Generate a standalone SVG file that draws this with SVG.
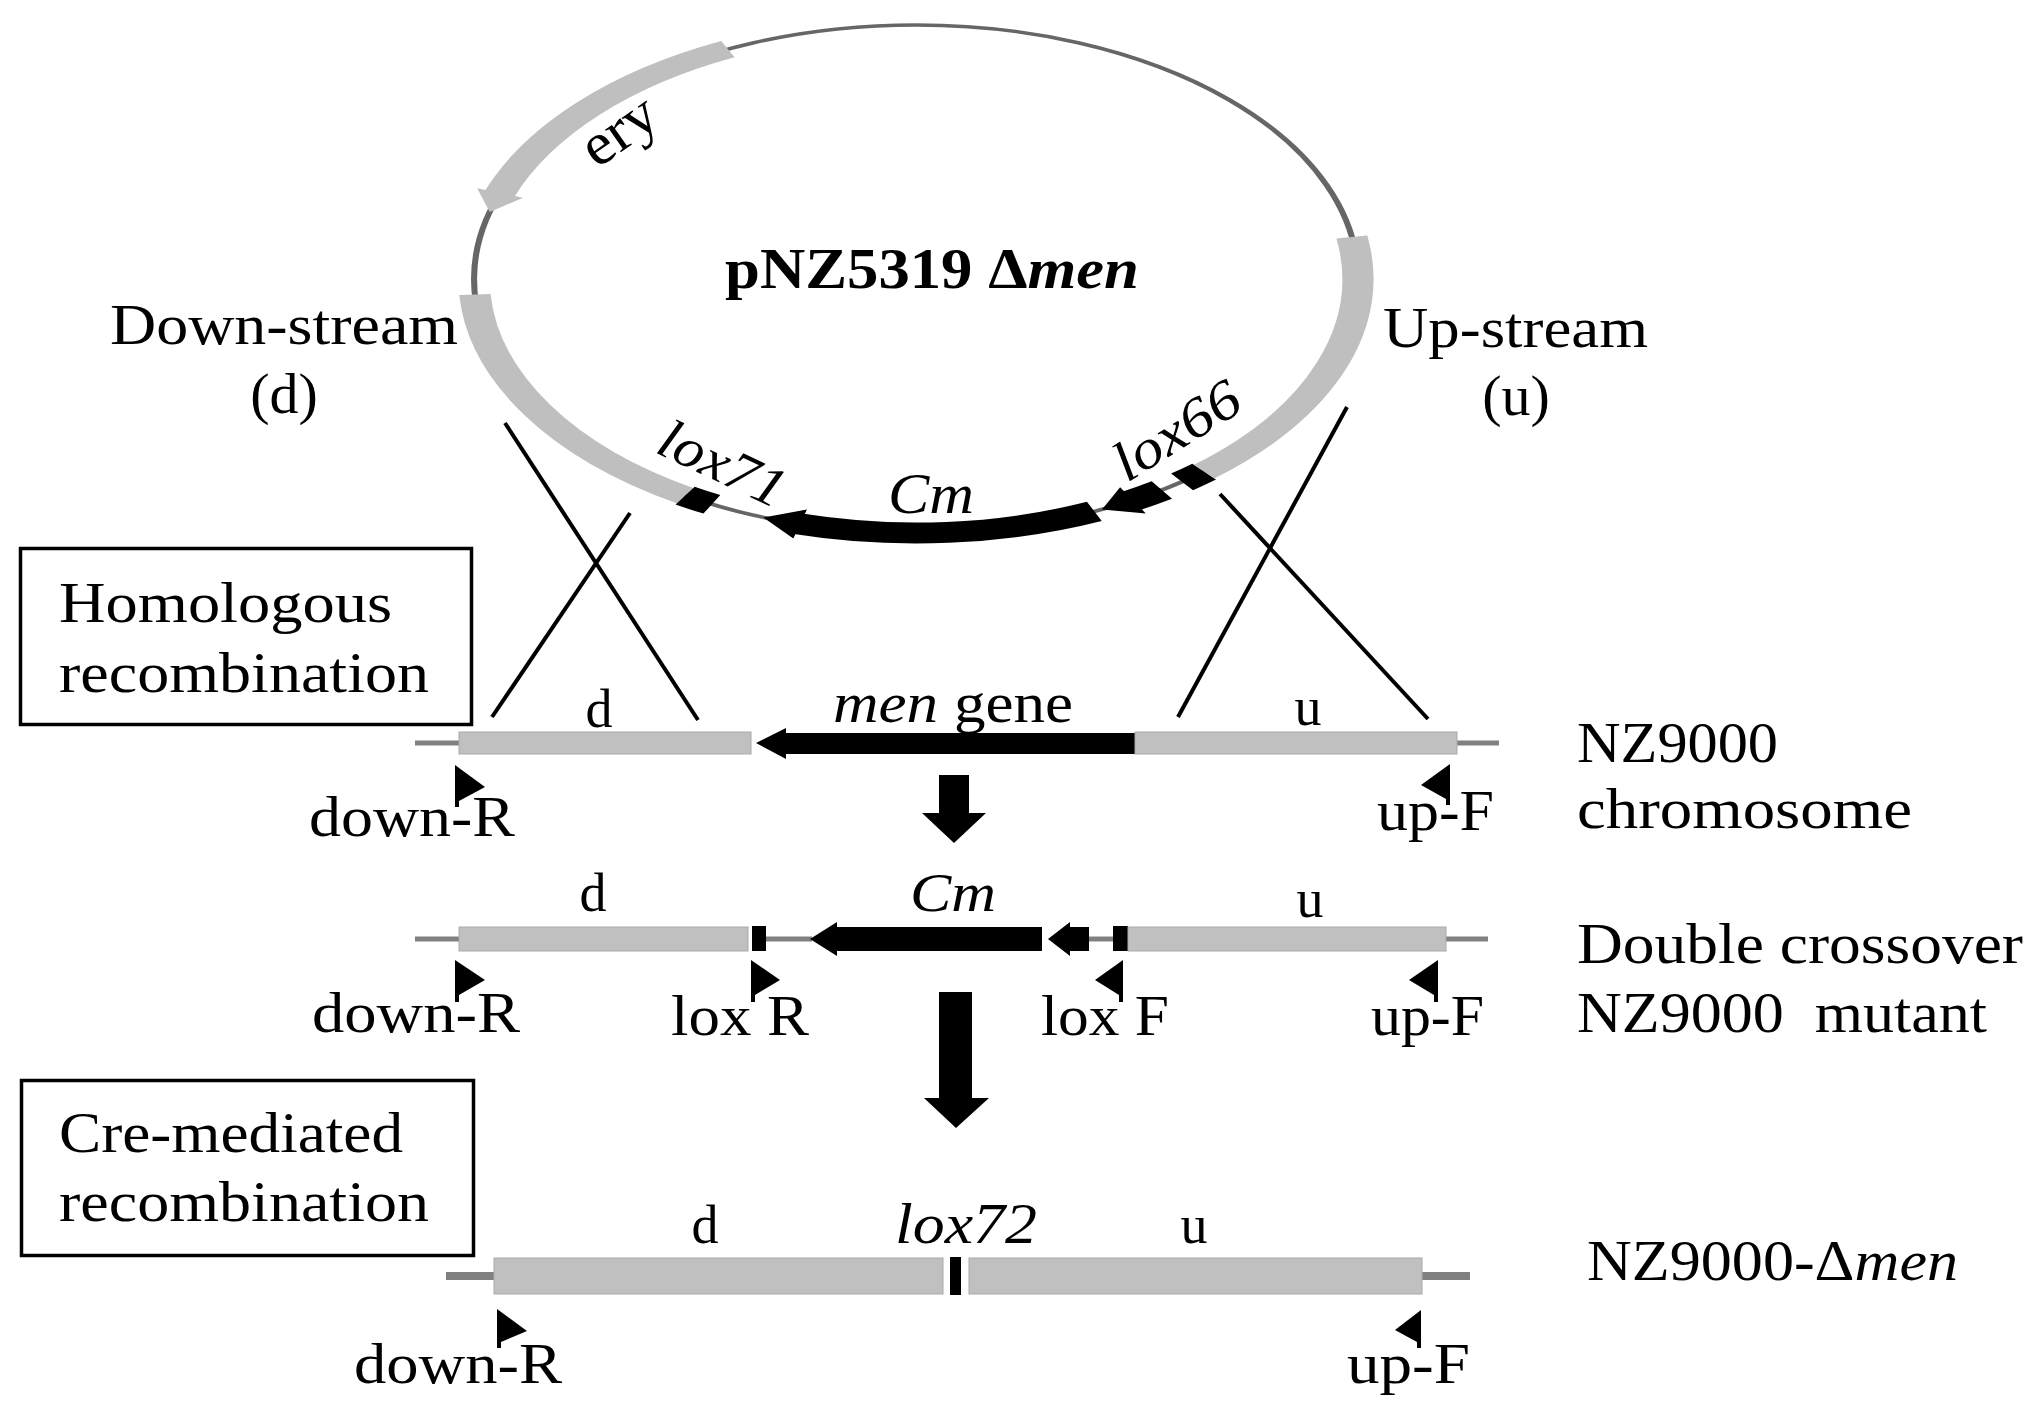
<svg xmlns="http://www.w3.org/2000/svg" width="2040" height="1410" viewBox="0 0 2040 1410">
<style>
.t{font-family:"Liberation Serif","Times New Roman",serif;fill:#000}
.i{font-style:italic}
.b{font-weight:bold}
.band{fill:none;stroke:#bfbfbf;stroke-width:18}
.blk{fill:none;stroke:#000;stroke-width:21}
.thin{fill:none;stroke:#666;stroke-width:3.5}
.gbox{fill:#c0c0c0;stroke:#aaa;stroke-width:1}
.line{stroke:#808080}
.x{stroke:#000;stroke-width:4;fill:none}
.box{fill:#fff;stroke:#000;stroke-width:3.5}
</style>
<rect width="2040" height="1410" fill="#fff"/>

<g id="plasmid">
  <g transform="translate(916,279) scale(1.74,1)">
    <circle class="thin" cx="0" cy="0" r="254"/>
    <path class="band" d="M -108.1 -229.8 A 254 254 0 0 0 -239.4 -84.8"/>
    <polygon points="-252.2,-90.8 -245.0,-67.0 -225.8,-81.3" fill="#bfbfbf"/>
    <path class="band" d="M -132.7 216.6 A 254 254 0 0 1 -253.5 15.5"/>
    <path class="blk" d="M -117.3 225.3 A 254 254 0 0 1 -132.7 216.6"/>
    <path class="blk" stroke-width="20" d="M 102.5 232.4 A 254 254 0 0 1 -68.3 244.7"/>
    <polygon points="-70.5,259.6 -87.7,238.4 -62.7,230.6" fill="#000"/>
    <path class="blk" stroke-width="20" d="M 141.3 211.1 A 254 254 0 0 1 123.1 222.2"/>
    <polygon points="132.1,234.4 106.9,230.4 117.3,208.2" fill="#000"/>
    <path class="blk" d="M 165.6 192.6 A 254 254 0 0 1 152.9 202.8"/>
    <path class="band" d="M 250.5 -41.9 A 254 254 0 0 1 165.6 192.6"/>
  </g>
  <text class="t" font-size="60" textLength="80" lengthAdjust="spacingAndGlyphs" transform="translate(597,169) rotate(-35)">ery</text>
  <text class="t b" x="725" y="288" font-size="58" textLength="414" lengthAdjust="spacingAndGlyphs">pNZ5319 Δ<tspan class="i">men</tspan></text>
  <text class="t i" font-size="56" textLength="134" lengthAdjust="spacingAndGlyphs" transform="translate(654,452) rotate(25)">lox71</text>
  <text class="t i" x="888" y="513" font-size="58" textLength="86" lengthAdjust="spacingAndGlyphs">Cm</text>
  <text class="t i" font-size="56" textLength="140" lengthAdjust="spacingAndGlyphs" transform="translate(1127,483) rotate(-32)">lox66</text>
</g>

<g id="label-downstream">
  <text class="t" x="110" y="344" font-size="58" textLength="348" lengthAdjust="spacingAndGlyphs">Down-stream</text>
  <text class="t" x="284" y="413" font-size="58" text-anchor="middle">(d)</text>
</g>
<g id="label-upstream">
  <text class="t" x="1383" y="347" font-size="58" textLength="265" lengthAdjust="spacingAndGlyphs">Up-stream</text>
  <text class="t" x="1516" y="415" font-size="58" text-anchor="middle">(u)</text>
</g>

<g id="box-homologous">
  <rect class="box" x="20.5" y="548.5" width="451" height="176"/>
  <text class="t" x="59" y="622" font-size="57" textLength="333" lengthAdjust="spacingAndGlyphs">Homologous</text>
  <text class="t" x="59" y="692" font-size="57" textLength="370" lengthAdjust="spacingAndGlyphs">recombination</text>
</g>

<g id="box-cre">
  <rect class="box" x="21.5" y="1080.5" width="452" height="175"/>
  <text class="t" x="59" y="1152" font-size="57" textLength="344" lengthAdjust="spacingAndGlyphs">Cre-mediated</text>
  <text class="t" x="59" y="1221" font-size="57" textLength="370" lengthAdjust="spacingAndGlyphs">recombination</text>
</g>

<g id="row-chromosome">
  <line class="line" x1="415" y1="743" x2="460" y2="743" stroke-width="5"/>
  <line class="line" x1="1456" y1="743" x2="1499" y2="743" stroke-width="5"/>
  <rect class="gbox" x="459" y="732" width="292" height="22"/>
  <polygon points="756,743 786,728 786,733 1136,733 1136,754 786,754 786,759" fill="#000"/>
  <rect class="gbox" x="1135" y="732" width="322" height="22"/>
  <text class="t" x="599" y="727" font-size="54" text-anchor="middle">d</text>
  <text class="t" x="833" y="722" font-size="56" textLength="240" lengthAdjust="spacingAndGlyphs"><tspan class="i">men</tspan> gene</text>
  <text class="t" x="1308" y="725" font-size="54" text-anchor="middle">u</text>
  <polygon points="455,765 485,787 459,801 459,807 455,807" fill="#000"/>
  <polygon points="1450,764 1421,785 1446,799 1446,805 1450,805" fill="#000"/>
  <text class="t" x="309" y="836" font-size="57" textLength="206" lengthAdjust="spacingAndGlyphs">down-R</text>
  <text class="t" x="1377" y="830" font-size="57" textLength="117" lengthAdjust="spacingAndGlyphs">up-F</text>
  <text class="t" x="1577" y="762" font-size="57" textLength="201" lengthAdjust="spacingAndGlyphs">NZ9000</text>
  <text class="t" x="1577" y="828" font-size="57" textLength="335" lengthAdjust="spacingAndGlyphs">chromosome</text>
</g>

<g id="row-double-crossover">
  <line class="line" x1="415" y1="939" x2="460" y2="939" stroke-width="5"/>
  <line class="line" x1="765" y1="939" x2="812" y2="939" stroke-width="5"/>
  <line class="line" x1="1088" y1="939" x2="1114" y2="939" stroke-width="5"/>
  <line class="line" x1="1445" y1="939" x2="1488" y2="939" stroke-width="5"/>
  <rect class="gbox" x="459" y="927" width="289" height="24"/>
  <rect x="752" y="926" width="14" height="25" fill="#000"/>
  <polygon points="810,939 837,922 837,927 1042,927 1042,951 837,951 837,956" fill="#000"/>
  <polygon points="1048,939 1070,922 1070,927 1089,927 1089,951 1070,951 1070,956" fill="#000"/>
  <rect x="1113" y="926" width="15" height="25" fill="#000"/>
  <rect class="gbox" x="1128" y="927" width="318" height="24"/>
  <text class="t" x="593" y="911" font-size="54" text-anchor="middle">d</text>
  <text class="t i" x="910" y="911" font-size="55" textLength="86" lengthAdjust="spacingAndGlyphs">Cm</text>
  <text class="t" x="1310" y="917" font-size="54" text-anchor="middle">u</text>
  <polygon points="455,960 485,980 459,995 459,1002 455,1002" fill="#000"/>
  <polygon points="751,960 780,980 755,995 755,1002 751,1002" fill="#000"/>
  <polygon points="1123,960 1095,980 1119,995 1119,1002 1123,1002" fill="#000"/>
  <polygon points="1438,960 1409,980 1434,995 1434,1002 1438,1002" fill="#000"/>
  <text class="t" x="312" y="1032" font-size="57" textLength="208" lengthAdjust="spacingAndGlyphs">down-R</text>
  <text class="t" x="671" y="1035" font-size="57" textLength="138" lengthAdjust="spacingAndGlyphs">lox R</text>
  <text class="t" x="1041" y="1035" font-size="57" textLength="128" lengthAdjust="spacingAndGlyphs">lox F</text>
  <text class="t" x="1371" y="1035" font-size="57" textLength="113" lengthAdjust="spacingAndGlyphs">up-F</text>
  <text class="t" x="1577" y="963" font-size="57" textLength="446" lengthAdjust="spacingAndGlyphs">Double crossover</text>
  <text class="t" x="1577" y="1032" font-size="57" textLength="410" lengthAdjust="spacingAndGlyphs" style="white-space:pre">NZ9000  mutant</text>
</g>

<g id="row-deletion">
  <line class="line" x1="446" y1="1276" x2="495" y2="1276" stroke-width="8"/>
  <line class="line" x1="1421" y1="1276" x2="1470" y2="1276" stroke-width="8"/>
  <rect class="gbox" x="494" y="1258" width="449" height="36"/>
  <rect x="950" y="1257" width="11" height="38" fill="#000"/>
  <rect class="gbox" x="969" y="1258" width="453" height="36"/>
  <text class="t" x="705" y="1243" font-size="54" text-anchor="middle">d</text>
  <text class="t i" x="895" y="1243" font-size="56" textLength="142" lengthAdjust="spacingAndGlyphs">lox72</text>
  <text class="t" x="1194" y="1243" font-size="54" text-anchor="middle">u</text>
  <polygon points="497,1309 527,1331 501,1342 501,1348 497,1348" fill="#000"/>
  <polygon points="1421,1310 1395,1330 1417,1342 1417,1348 1421,1348" fill="#000"/>
  <text class="t" x="354" y="1383" font-size="57" textLength="208" lengthAdjust="spacingAndGlyphs">down-R</text>
  <text class="t" x="1347" y="1383" font-size="57" textLength="123" lengthAdjust="spacingAndGlyphs">up-F</text>
  <text class="t" x="1587" y="1280" font-size="57" textLength="371" lengthAdjust="spacingAndGlyphs">NZ9000-Δ<tspan class="i">men</tspan></text>
</g>

<g id="connectors">
  <line class="x" x1="505" y1="423" x2="698" y2="720"/>
  <line class="x" x1="630" y1="513" x2="492" y2="717"/>
  <line class="x" x1="1347" y1="407" x2="1178" y2="717"/>
  <line class="x" x1="1220" y1="494" x2="1428" y2="719"/>
  <polygon points="939,775 969,775 969,813 986,813 954,843 922,813 939,813" fill="#000"/>
  <polygon points="939,992 972,992 972,1098 989,1098 956,1128 924,1098 939,1098" fill="#000"/>
</g>
</svg>
